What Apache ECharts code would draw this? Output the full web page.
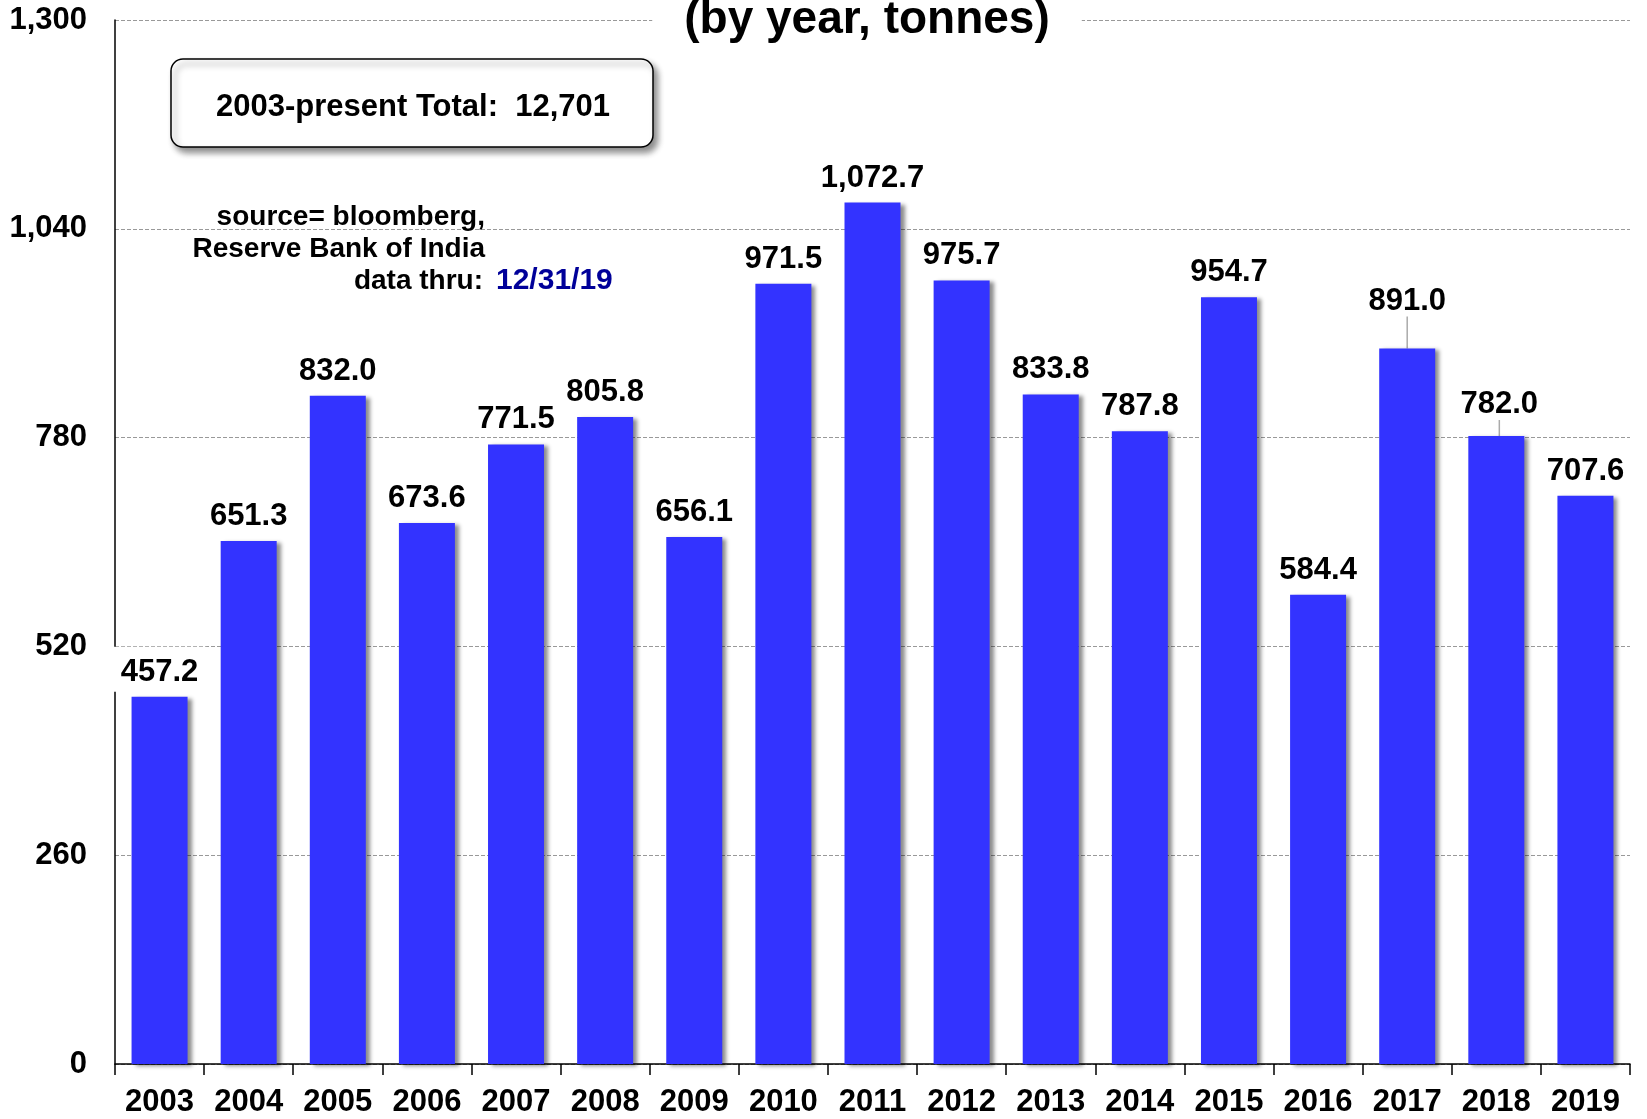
<!DOCTYPE html>
<html>
<head>
<meta charset="utf-8">
<script src="https://cdn.jsdelivr.net/npm/echarts@6/dist/echarts.min.js"></script>
<style>
    html, body { margin: 0; padding: 0; background: #fff; }
    #main { width: 1647px; height: 1119px; }
</style>
</head>
<body>
<div id="main"></div>
<script>
var years = ['2003', '2004', '2005', '2006', '2007', '2008', '2009', '2010', '2011',
    '2012', '2013', '2014', '2015', '2016', '2017', '2018', '2019'];
var tonnes = [457.2, 651.3, 832.0, 673.6, 771.5, 805.8, 656.1, 971.5, 1072.7,
    975.7, 833.8, 787.8, 954.7, 584.4, 891.0, 782.0, 707.6];
var yTicks = [0, 260, 520, 780, 1040, 1300];   // 纵轴刻度
var totalText = '2003-present Total:  12,701';
var sourceLines = ['source= bloomberg,', 'Reserve Bank of India', 'data thru:'];
var dataThru = '12/31/19';

// 被挪开的标签 (带引导线)
var labelMoves = { 14: { dx: 0, dy: -23 }, 15: { dx: 3, dy: -7 } };

var FONT = "'Liberation Sans', Arial, Helvetica, sans-serif";

function commaNum(v, dec) {
    var s = v.toFixed(dec);
    var parts = s.split('.');
    parts[0] = parts[0].replace(/\B(?=(\d{3})+(?!\d))/g, ',');
    return parts.join('.');
}

var myChart = echarts.init(document.getElementById('main'));

var option = {
    animation: false,
    backgroundColor: '#fff',
    grid: { left: 115, right: 17, top: 20, bottom: 55 },
    xAxis: {
        type: 'category',
        data: years,
        axisLine: { lineStyle: { color: '#000', width: 1.5 } },
        axisTick: { show: true, interval: 0, length: 11, lineStyle: { color: '#000', width: 1.5 } },
        axisLabel: {
            interval: 0,
            margin: 23,
            color: '#000',
            fontFamily: FONT,
            fontWeight: 'bold',
            fontSize: 31
        }
    },
    yAxis: {
        type: 'value',
        min: yTicks[0],
        max: yTicks[yTicks.length - 1],
        interval: yTicks[1] - yTicks[0],
        axisLine: { show: true, lineStyle: { color: '#000', width: 1.5 } },
        axisTick: { show: false },
        splitLine: { lineStyle: { color: '#999', width: 1, type: [4, 2] } },
        axisLabel: {
            margin: 28,
            color: '#000',
            fontFamily: FONT,
            fontWeight: 'bold',
            fontSize: 31,
            formatter: function (v) { return commaNum(v, 0); }
        }
    },
    series: [{
        type: 'bar',
        barWidth: 56,
        itemStyle: {
            color: '#3333FF',
            shadowColor: 'rgba(0,0,0,0.45)',
            shadowBlur: 4,
            shadowOffsetX: 4,
            shadowOffsetY: 2
        },
        label: {
            show: true,
            position: 'top',
            distance: 9,
            color: '#000',
            fontFamily: FONT,
            fontWeight: 'bold',
            fontSize: 31,
            formatter: function (p) { return commaNum(p.value, 1); }
        },
        labelLayout: function (params) {
            var m = labelMoves[params.dataIndex];
            return m ? { dx: m.dx, dy: m.dy } : {};
        },
        data: tonnes.map(function (v, i) {
            var item = { value: v };
            if (labelMoves[i]) {
                item.labelLine = { show: true, lineStyle: { color: '#aaa', width: 1.5 } };
            }
            if (i === 0) {
                // 第一个标签盖住了纵轴线
                item.label = { backgroundColor: '#fff', padding: [10, 8, 4, 8], distance: 5 };
            }
            return item;
        })
    }],
    graphic: [
        {
            type: 'text',
            z: 100,
            x: 867,
            y: 20,
            style: {
                text: '(by year, tonnes)',
                font: 'bold 46px ' + FONT,
                fill: '#000',
                align: 'center',
                verticalAlign: 'middle',
                backgroundColor: '#fff',
                padding: [4, 32]
            }
        },
        {
            type: 'rect',
            z: 100,
            shape: { x: 171, y: 59, width: 482, height: 88, r: 12 },
            style: {
                fill: '#fff',
                stroke: '#000',
                lineWidth: 1.5,
                shadowColor: 'rgba(0,0,0,0.45)',
                shadowBlur: 6,
                shadowOffsetX: 4,
                shadowOffsetY: 5
            }
        },
        {
            type: 'text',
            z: 101,
            x: 413,
            y: 107,
            style: {
                text: totalText,
                font: 'bold 31px ' + FONT,
                fill: '#000',
                align: 'center',
                verticalAlign: 'middle'
            }
        },
        {
            type: 'text', z: 101, x: 485, y: 217,
            style: { text: sourceLines[0], font: 'bold 28px ' + FONT, fill: '#000', align: 'right', verticalAlign: 'middle' }
        },
        {
            type: 'text', z: 101, x: 485, y: 249,
            style: { text: sourceLines[1], font: 'bold 28px ' + FONT, fill: '#000', align: 'right', verticalAlign: 'middle' }
        },
        {
            type: 'text', z: 101, x: 483, y: 281,
            style: { text: sourceLines[2], font: 'bold 28px ' + FONT, fill: '#000', align: 'right', verticalAlign: 'middle' }
        },
        {
            type: 'text', z: 101, x: 496, y: 281,
            style: { text: dataThru, font: 'bold 30px ' + FONT, fill: '#000099', align: 'left', verticalAlign: 'middle' }
        }
    ]
};

myChart.setOption(option);
</script>
</body>
</html>
